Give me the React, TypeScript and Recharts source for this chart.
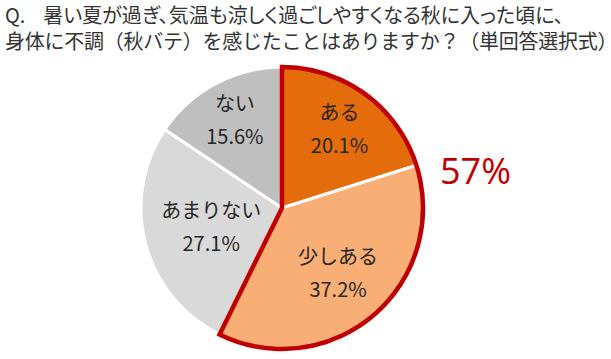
import React from 'react';
import { PieChart, Pie, Cell } from 'recharts';

const answers = ['ある', '少しある', 'あまりない', 'ない'];
const shares = [20.1, 37.2, 27.1, 15.6];
const titleLines = [
  'Q.    暑い夏が過ぎ、気温も涼しく過ごしやすくなる秋に入った頃に、',
  '身体に不調（秋バテ）を感じたことはありますか？（単回答選択式）',
];
const highlightLabel = '57%';

const sliceColors = ['#E46C0A', '#F9AE76', '#D9D9D9', '#BFBFBF'];
// distance of each label from the centre, as a share of the radius
const labelRadius = [0.69, 0.61, 0.52, 0.71];

const FONT = '"Noto Sans CJK JP", "Noto Sans", sans-serif';
const RAD = Math.PI / 180;

const data = answers.map((name, i) => ({ name, value: shares[i] }));
const outline = [
  { name: 'ある・少しある', value: shares[0] + shares[1] },
  { name: 'その他', value: shares[2] + shares[3] },
];

const renderLabel = (props: any) => {
  const { cx, cy, midAngle, outerRadius, index, name, value } = props;
  const r = outerRadius * labelRadius[index];
  const x = cx + r * Math.cos(-midAngle * RAD);
  const y = cy + r * Math.sin(-midAngle * RAD);
  return (
    <text x={x} y={y} textAnchor="middle" fill="#262626" fontSize={20} fontFamily={FONT}>
      <tspan x={x} dy={-9}>{name}</tspan>
      <tspan x={x} dy={33}>{value.toFixed(1)}%</tspan>
    </text>
  );
};

const titleStyle: React.CSSProperties = {
  position: 'absolute',
  left: 5,
  fontFamily: FONT,
  fontSize: 20,
  lineHeight: '22px',
  height: 22,
  color: '#333333',
  whiteSpace: 'pre',
};

export default function App() {
  return (
    <div style={{ position: 'relative', width: 611, height: 359, background: '#fff' }}>
      <style>{'body{margin:0}'}</style>
      <div style={{ ...titleStyle, top: 4, fontFeatureSettings: '"palt"' }}>{titleLines[0]}</div>
      <div style={{ ...titleStyle, top: 30, letterSpacing: -0.25 }}>{titleLines[1]}</div>
      <PieChart width={611} height={359} margin={{ top: 0, right: 0, bottom: 0, left: 0 }}>
        <Pie
          data={data}
          dataKey="value"
          nameKey="name"
          cx={282}
          cy={208}
          outerRadius={141}
          startAngle={90}
          endAngle={-270}
          stroke="#ffffff"
          strokeWidth={3}
          label={renderLabel}
          labelLine={false}
          isAnimationActive={false}
        >
          {data.map((d, i) => (
            <Cell key={d.name} fill={sliceColors[i]} />
          ))}
        </Pie>
        <Pie
          data={outline}
          dataKey="value"
          cx={282}
          cy={208}
          outerRadius={141}
          startAngle={90}
          endAngle={-270}
          isAnimationActive={false}
        >
          <Cell fill="none" stroke="#C00000" strokeWidth={4.5} />
          <Cell fill="none" stroke="none" />
        </Pie>
      </PieChart>
      <div
        style={{
          position: 'absolute',
          left: 440,
          top: 151,
          fontFamily: '"Open Sans", "Noto Sans", sans-serif',
          fontSize: 36,
          color: '#C00000',
          lineHeight: '40px',
        }}
      >
        {highlightLabel}
      </div>
    </div>
  );
}
